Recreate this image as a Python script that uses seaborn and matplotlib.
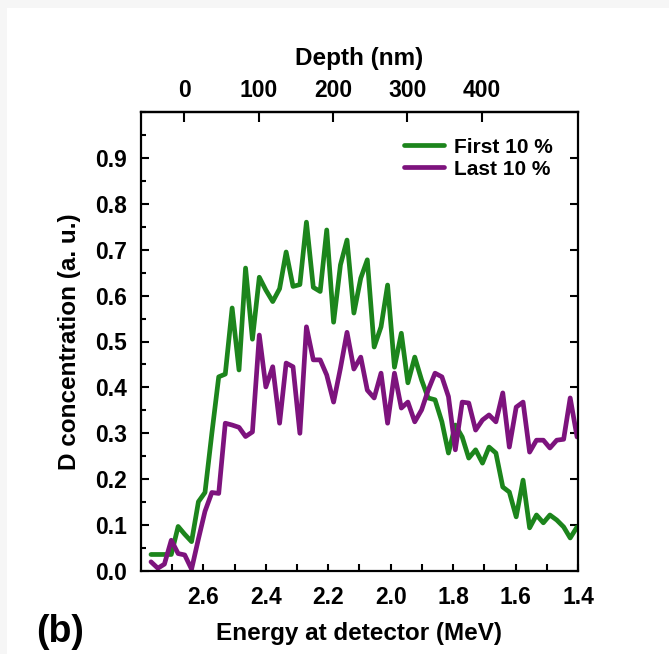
import numpy as np
import pandas as pd
import matplotlib
matplotlib.use('Agg')
import matplotlib.pyplot as plt
from matplotlib.ticker import MultipleLocator, FixedLocator
from matplotlib.patches import Rectangle
import seaborn as sns

# energy grid (MeV)
energy = [2.768, 2.746, 2.725, 2.703, 2.681, 2.660, 2.638, 2.616, 2.595, 2.573,
          2.551, 2.530, 2.508, 2.486, 2.465, 2.443, 2.421, 2.400, 2.378, 2.356,
          2.335, 2.313, 2.291, 2.270, 2.248, 2.226, 2.205, 2.183, 2.161, 2.140,
          2.118, 2.096, 2.075, 2.053, 2.031, 2.010, 1.988, 1.966, 1.945, 1.923,
          1.901, 1.880, 1.858, 1.836, 1.815, 1.793, 1.771, 1.750, 1.728, 1.706,
          1.685, 1.663, 1.641, 1.620, 1.598, 1.576, 1.555, 1.533, 1.511, 1.490,
          1.468, 1.446, 1.425, 1.403]

first_10 = [0.036, 0.036, 0.036, 0.036, 0.097, 0.080, 0.064, 0.151, 0.171, 0.300,
            0.423, 0.429, 0.573, 0.438, 0.660, 0.505, 0.640, 0.612, 0.587, 0.615,
            0.695, 0.620, 0.624, 0.760, 0.618, 0.609, 0.743, 0.542, 0.667, 0.721,
            0.562, 0.638, 0.678, 0.488, 0.532, 0.623, 0.444, 0.518, 0.410, 0.466,
            0.416, 0.377, 0.373, 0.325, 0.257, 0.318, 0.292, 0.246, 0.264, 0.235,
            0.270, 0.257, 0.183, 0.172, 0.118, 0.198, 0.094, 0.122, 0.105, 0.122,
            0.111, 0.096, 0.072, 0.096]

last_10 = [0.020, 0.006, 0.015, 0.067, 0.038, 0.035, 0.004, 0.070, 0.130, 0.171,
           0.169, 0.322, 0.318, 0.313, 0.293, 0.303, 0.514, 0.401, 0.445, 0.322,
           0.453, 0.445, 0.300, 0.532, 0.460, 0.460, 0.427, 0.368, 0.442, 0.520,
           0.440, 0.466, 0.394, 0.377, 0.431, 0.322, 0.431, 0.355, 0.368, 0.325,
           0.351, 0.394, 0.431, 0.423, 0.380, 0.264, 0.368, 0.366, 0.307, 0.329,
           0.340, 0.325, 0.388, 0.270, 0.357, 0.368, 0.259, 0.285, 0.285, 0.268,
           0.285, 0.287, 0.377, 0.292]

series_names = ['First 10 %', 'Last 10 %']
series_colors = ['#1c851c', '#7d137d']
depth_ticks = [0, 100, 200, 300, 400]

df = pd.DataFrame({
    'energy': energy * 2,
    'conc': first_10 + last_10,
    'series': [series_names[0]] * len(energy) + [series_names[1]] * len(energy),
})

sns.set_style('ticks')
plt.rcParams['font.family'] = ['Liberation Sans', 'DejaVu Sans']
plt.rcParams['font.weight'] = 'bold'
plt.rcParams['text.color'] = 'black'
plt.rcParams['axes.labelcolor'] = 'black'
plt.rcParams['xtick.color'] = 'black'
plt.rcParams['ytick.color'] = 'black'
plt.rcParams['axes.edgecolor'] = 'black'

fig = plt.figure(figsize=(6.69, 6.54), dpi=100)
fig.patch.set_facecolor('#f6f6f6')
fig.patches.append(Rectangle((7 / 669, 0), 1, 1 - 8 / 654, transform=fig.transFigure,
                             facecolor='white', edgecolor='none', zorder=-1))
ax = fig.add_axes([141 / 669, 1 - 571 / 654, 437 / 669, 459 / 654])

sns.lineplot(data=df, x='energy', y='conc', hue='series', hue_order=series_names,
             palette=series_colors, linewidth=3.4, ax=ax, sort=False)

ax.set_xlim(2.8, 1.4)
ax.set_ylim(0, 1.0)

# ticks
ax.xaxis.set_major_locator(FixedLocator([2.6, 2.4, 2.2, 2.0, 1.8, 1.6, 1.4]))
ax.xaxis.set_minor_locator(FixedLocator([2.7, 2.5, 2.3, 2.1, 1.9, 1.7, 1.5]))
ax.set_xticklabels(['2.6', '2.4', '2.2', '2.0', '1.8', '1.6', '1.4'])
ax.yaxis.set_major_locator(FixedLocator([0.0, 0.1, 0.2, 0.3, 0.4, 0.5, 0.6, 0.7, 0.8, 0.9]))
ax.yaxis.set_minor_locator(MultipleLocator(0.05))
ax.set_yticklabels(['0.0', '0.1', '0.2', '0.3', '0.4', '0.5', '0.6', '0.7', '0.8', '0.9'])

ax.tick_params(axis='x', which='both', direction='in', length=5, width=1.5,
               labelsize=16.5, pad=11, top=False)
ax.tick_params(axis='y', which='major', direction='in', length=6, width=1.5,
               labelsize=16.5, pad=10, right=True)
ax.tick_params(axis='y', which='minor', direction='in', length=3.5, width=1.5, right=False)
for lab in ax.get_xticklabels() + ax.get_yticklabels():
    lab.set_fontweight('bold')

for sp in ax.spines.values():
    sp.set_linewidth(1.6)
    sp.set_visible(True)

ax.set_xlabel('Energy at detector (MeV)', fontsize=17.5, fontweight='bold', labelpad=9)
ax.set_ylabel('D concentration (a. u.)', fontsize=17.5, fontweight='bold', labelpad=10)


# depth axis on top
def e2d(e):
    return (2.662 - np.asarray(e)) * 419.3


def d2e(d):
    return 2.662 - np.asarray(d) / 419.3


sec = ax.secondary_xaxis('top', functions=(e2d, d2e))
sec.xaxis.set_major_locator(FixedLocator(depth_ticks))
sec.tick_params(direction='in', length=7, width=1.5, labelsize=16.5, pad=7)
for lab in sec.get_xticklabels():
    lab.set_fontweight('bold')
sec.spines['top'].set_linewidth(1.6)
sec.set_xlabel('Depth (nm)', fontsize=17.5, fontweight='bold', labelpad=10)

leg = ax.legend(loc='upper right', frameon=False, fontsize=15, handlelength=1.9,
                handletextpad=0.5, labelspacing=0.15, borderaxespad=0.5,
                bbox_to_anchor=(0.985, 0.985))
for t in leg.get_texts():
    t.set_fontweight('bold')
for h in leg.get_lines():
    h.set_linewidth(3.4)

fig.text(60 / 669, 1 - 632 / 654, '(b)', fontsize=27, fontweight='bold',
         ha='center', va='center')

fig.savefig('out.png', dpi=100)
